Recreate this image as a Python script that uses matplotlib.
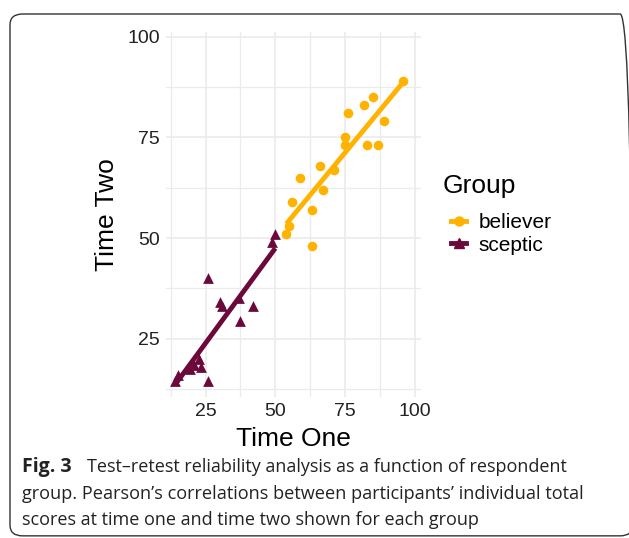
import matplotlib.pyplot as plt
import numpy as np
from matplotlib.patches import FancyBboxPatch
from matplotlib.lines import Line2D

# datos
believer_t1 = [96, 85, 82, 76, 89, 75, 75, 83, 87, 66, 71, 59, 67, 56, 63, 55, 54, 63]
believer_t2 = [89, 85, 83, 81, 79, 75, 73, 73, 73, 68, 67, 65, 62, 59, 57, 53, 51, 48]
sceptic_t1 = [14, 15, 19.5, 21, 22.5, 23.5, 26, 26, 30, 31, 37, 37.5, 42, 49, 50]
sceptic_t2 = [14.5, 16, 17.5, 18.5, 20, 18, 14.5, 40, 34, 33, 35, 29.5, 33, 49, 51]

x_ticks = [25, 50, 75, 100]
y_ticks = [25, 50, 75, 100]

col_believer = '#FFB300'
col_sceptic = '#6B0A3A'

fig = plt.figure(figsize=(6.29, 5.38), dpi=100)

# marco redondeado del recuadro de la figura
marco = FancyBboxPatch((10 / 629, 0.004), 0.99, 1 - 14 / 538 - 0.004,
                       boxstyle='round,pad=0,rounding_size=0.02',
                       transform=fig.transFigure, fill=False,
                       edgecolor='#333333', linewidth=1.0, clip_on=False)
fig.patches.append(marco)

ax = fig.add_axes([165.5 / 629, 1 - 397 / 538, (421 - 165.5) / 629, (397 - 32) / 538])

# lineas de regresion (lm) por grupo
for t1, t2, col in [(believer_t1, believer_t2, col_believer), (sceptic_t1, sceptic_t2, col_sceptic)]:
    m, b = np.polyfit(t1, t2, 1)
    xs = np.array([min(t1), max(t1)])
    ax.plot(xs, m * xs + b, color=col, linewidth=3.5, solid_capstyle='butt', zorder=2)

ax.scatter(believer_t1, believer_t2, s=48, color=col_believer, marker='o', zorder=3, linewidths=0)
ax.scatter(sceptic_t1, sceptic_t2, s=60, color=col_sceptic, marker='^', zorder=3, linewidths=0)

ax.set_xlim(10.6, 102.3)
ax.set_ylim(10.5, 101.2)
ax.set_xticks(x_ticks)
ax.set_yticks(y_ticks)
ax.set_xticks([12.5, 37.5, 62.5, 87.5], minor=True)
ax.set_yticks([12.5, 37.5, 62.5, 87.5], minor=True)
ax.grid(True, which='major', color='#EBEBEB', linewidth=1.2)
ax.grid(True, which='minor', color='#EBEBEB', linewidth=0.9)
ax.set_axisbelow(True)
for s in ax.spines.values():
    s.set_visible(False)
ax.tick_params(which='both', length=0, labelsize=14, labelcolor='#222222', pad=4)
for lab in ax.get_xticklabels() + ax.get_yticklabels():
    lab.set_fontfamily('Liberation Sans')

ax.set_xlabel('Time One', fontsize=19, fontfamily='Liberation Sans', labelpad=5)
ax.set_ylabel('Time Two', fontsize=19, fontfamily='Liberation Sans', labelpad=6)

# leyenda (titulo aparte para controlar el espacio)
fig.text(443 / 629, 1 - 186 / 538, 'Group', fontsize=19, family='Liberation Sans',
         va='center', ha='left')
handles = [Line2D([0], [0], color=col_believer, linewidth=3.5, marker='o', markersize=6.5),
           Line2D([0], [0], color=col_sceptic, linewidth=3.5, marker='^', markersize=7)]
leg = fig.legend(handles, ['believer', 'sceptic'], loc='upper left',
                 bbox_to_anchor=(441 / 629, 1 - 203 / 538), frameon=False,
                 prop={'family': 'Liberation Sans', 'size': 15},
                 handlelength=0.7, handletextpad=0.6, labelspacing=0.15, borderpad=0)

# pie de figura
fig.text(22 / 629, 1 - 467 / 538, 'Fig. 3', fontsize=14, va='center', ha='left',
         family='Open Sans', fontweight='bold', color='#222222')
fig.text(87 / 629, 1 - 467 / 538, 'Test\u2013retest reliability analysis as a function of respondent',
         fontsize=13, va='center', ha='left', family='Open Sans', color='#222222')
fig.text(22 / 629, 1 - 494 / 538,
         'group. Pearson\u2019s correlations between participants\u2019 individual total',
         fontsize=13.1, va='center', ha='left', family='Open Sans', color='#222222')
fig.text(22 / 629, 1 - 520 / 538, 'scores at time one and time two shown for each group',
         fontsize=13, va='center', ha='left', family='Open Sans', color='#222222')

fig.savefig('out.png', dpi=100)
